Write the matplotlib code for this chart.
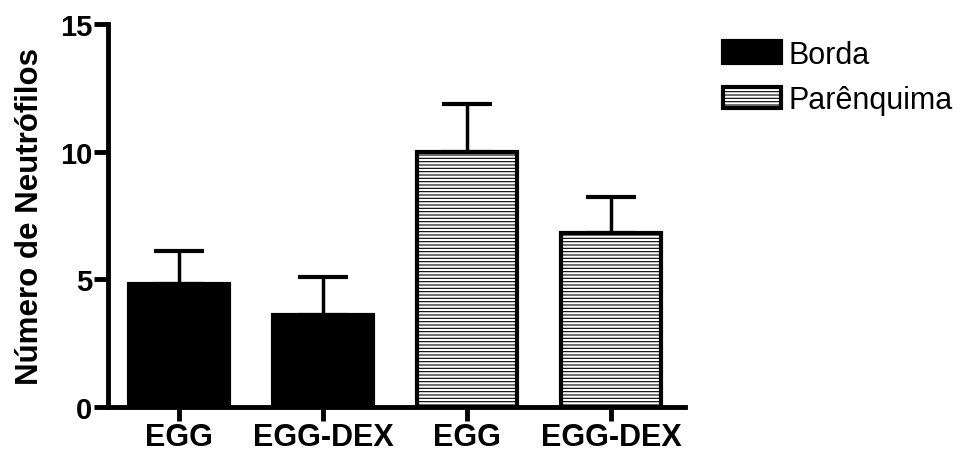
import matplotlib.pyplot as plt
import numpy as np

grupos = ['EGG', 'EGG-DEX', 'EGG', 'EGG-DEX']
medias = [4.82, 3.62, 10.0, 6.8]
erros = [1.3, 1.48, 1.88, 1.43]
series = ['Borda', 'Borda', 'Parênquima', 'Parênquima']

plt.rcParams['font.family'] = ['Liberation Sans', 'DejaVu Sans']
plt.rcParams['hatch.color'] = '#555555'
plt.rcParams['hatch.linewidth'] = 0.8

fig = plt.figure(figsize=(9.63, 4.52), dpi=100)
ax = fig.add_axes([0.112, 0.097, 0.599, 0.848])

x = np.arange(len(grupos))
largura = 0.694
barras = []
for i in range(len(grupos)):
    if series[i] == 'Borda':
        b = ax.bar(x[i], medias[i], largura, color='black', edgecolor='black',
                   linewidth=3, zorder=2)
    else:
        b = ax.bar(x[i], medias[i], largura, color='white', edgecolor='black',
                   linewidth=3, hatch='-----', zorder=2)
    barras.append(b)
    ax.errorbar(x[i], medias[i], yerr=[[0], [erros[i]]], fmt='none',
                ecolor='black', elinewidth=2.5, capsize=18, capthick=3, zorder=1)

ax.set_xlim(-0.493, 3.51)
ax.set_ylim(0, 15)
ax.set_yticks([0, 5, 10, 15])
ax.set_xticks(x)
ax.set_xticklabels(grupos, fontsize=22, fontweight='bold')
for t in ax.get_yticklabels():
    t.set_fontsize(21)
    t.set_fontweight('bold')
ax.set_ylabel('Número de Neutrófilos', fontsize=22.5, fontweight='bold', labelpad=11)

for lado in ['top', 'right']:
    ax.spines[lado].set_visible(False)
for lado in ['left', 'bottom']:
    ax.spines[lado].set_linewidth(3.5)
ax.tick_params(axis='both', width=3.5, length=10, pad=1)

fig.legend([barras[0], barras[2]], ['Borda', 'Parênquima'], loc='upper left',
           bbox_to_anchor=(0.751, 0.91), frameon=False, fontsize=22,
           borderpad=0, borderaxespad=0,
           handlelength=1.9, handleheight=0.7, handletextpad=0.25, labelspacing=0.5)

plt.savefig('out.png', dpi=100)
